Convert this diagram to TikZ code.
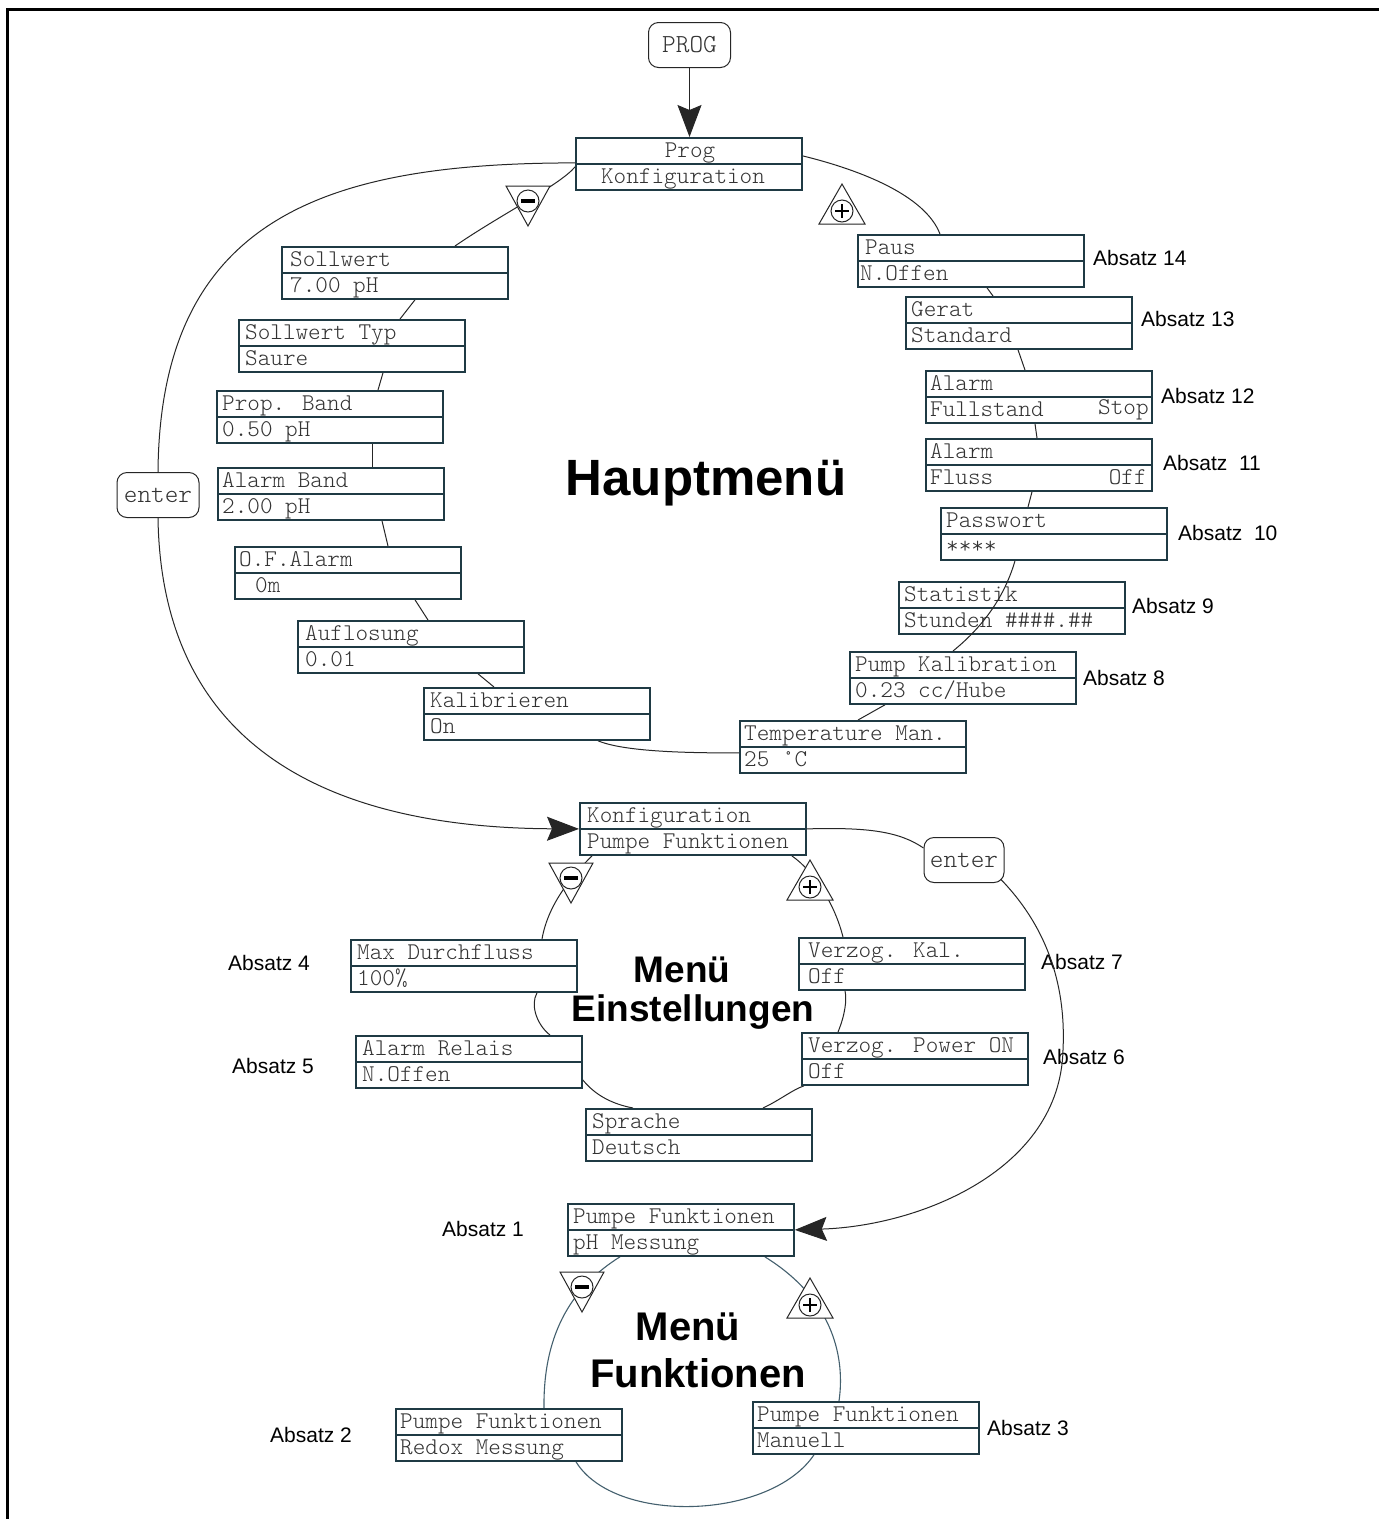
\documentclass[tikz,border=0pt]{standalone}
\usepackage{fontspec}
\setmainfont{Liberation Sans}
\newfontfamily\monol{lmmonolt10-regular}[Extension=.otf]
\usetikzlibrary{arrows.meta,calc}
\definecolor{boxc}{HTML}{1F3A44}
\definecolor{ringc}{HTML}{44606E}
\definecolor{txtc}{HTML}{333333}
\pgfdeclarelayer{bg}
\pgfsetlayers{bg,main}
\tikzset{
 menubox/.style={draw=boxc, line width=1.8pt, fill=white, minimum width=226pt, minimum height=52pt, inner sep=0pt, anchor=north west},
 mtxt/.style={font=\monol\fontsize{24}{26}\selectfont, text=txtc, inner sep=0pt, anchor=base west},
 ringline/.style={draw=black!85, line width=1pt},
 ringlineb/.style={draw=ringc, line width=1.1pt},
 abs/.style={font=\fontsize{21}{24}\selectfont, anchor=west, inner sep=0pt},
 keyb/.style={draw=black!85, line width=1pt, rounded corners=10pt, minimum width=82pt, minimum height=45pt, font=\monol\fontsize{26}{28}\selectfont, text=txtc, inner sep=0pt},
 bigarrow/.style={-{Stealth[length=32pt,width=24pt,inset=5pt]}, line width=1pt, draw=black!85},
 tri/.style={draw=black!85, fill=white, line width=1pt},
}
\newcommand\hashes{\char`\#\char`\#\char`\#\char`\#.\char`\#\char`\#}
\newcommand\mbx[6]{% name, x, y, dx, text1, text2
 \node[menubox] (#1) at (#2,#3) {};
 \draw[boxc, line width=1.5pt] (#1.west) -- (#1.east);
 \node[mtxt] (#1-a) at ([shift={(#4,20)}]#1.north west) {#5};
 \node[mtxt] (#1-b) at ([shift={(#4,46)}]#1.north west) {#6};
}
\newcommand\minustri[2]{%
 \coordinate (#1) at (#2);
 \draw[tri] ([shift={(-22,-15)}]#1) -- ([shift={(22,-15)}]#1) -- ([shift={(0,25)}]#1) -- cycle;
 \draw[tri] (#1) circle[radius=11pt];
 \draw[line width=4pt] ([shift={(-7,0)}]#1) -- ([shift={(7,0)}]#1);
}
\newcommand\plustri[2]{%
 \coordinate (#1) at (#2);
 \draw[tri] ([shift={(-23,13)}]#1) -- ([shift={(23,13)}]#1) -- ([shift={(0,-27)}]#1) -- cycle;
 \draw[tri] (#1) circle[radius=11pt];
 \draw[line width=1.5pt] ([shift={(-7,0)}]#1) -- ([shift={(7,0)}]#1) ([shift={(0,-7)}]#1) -- ([shift={(0,7)}]#1);
}
\begin{document}
\begin{tikzpicture}[x=1pt,y=-1pt]
\useasboundingbox (0,0) rectangle (1379,1519);
\begin{pgfonlayer}{bg}
\fill[white] (0,0) rectangle (1379,1519);
\end{pgfonlayer}
\draw[line width=3pt] (7,1519) -- (7,9) -- (1379,9);

% ---------- keys ----------
\node[keyb] (progkey) at (689.5,45) {PROG};
\node[keyb] (enter1) at (158,495) {enter};
\node[keyb, minimum width=80pt] (enter2) at (964,860) {enter};

% ---------- Hauptmenue ----------
\node[menubox] (prog) at (575,137) {};
\draw[boxc, line width=1.5pt] (prog.west) -- (prog.east);
\node[mtxt, anchor=base] (prog-a) at ([shift={(115,20)}]prog.north west) {Prog};
\node[mtxt, anchor=base] (prog-b) at ([shift={(108,46)}]prog.north west) {Konfiguration};

\mbx{sw}{281}{246}{9}{Sollwert}{7.00 pH}
\mbx{swt}{238}{319}{7}{Sollwert Typ}{Saure}
\mbx{pb}{216}{390}{6}{Prop. Band}{0.50 pH}
\mbx{ab}{217}{467}{5}{Alarm Band}{2.00 pH}
\node[menubox] (of) at (234,546) {};
\draw[boxc, line width=1.5pt] (of.west) -- (of.east);
\node[mtxt] (of-a) at ([shift={(5,20)}]of.north west) {O.F.Alarm};
\node[mtxt] (of-b) at ([shift={(21,46)}]of.north west) {0m};
\mbx{auf}{297}{620}{8}{Auflosung}{0.01}
\mbx{kal}{423}{687}{7}{Kalibrieren}{On}
\mbx{temp}{739}{720}{5}{Temperature Man.}{25 °C}
\mbx{pk}{849}{651}{6}{Pump Kalibration}{0.23 cc/Hube}
\mbx{stat}{898}{581}{6}{Statistik}{Stunden \hashes}
\mbx{pw}{940}{507}{6}{Passwort}{****}
\mbx{afl}{925}{438}{5}{Alarm}{Fluss}
\node[mtxt, anchor=base east] (afl-c) at ([shift={(-6,46)}]afl.north east) {Off};
\mbx{afs}{925}{370}{5}{Alarm}{Fullstand}
\node[mtxt, anchor=base east] (afs-c) at ([shift={(-4,44)}]afs.north east) {Stop};
\mbx{ger}{905}{296}{6}{Gerat}{Standard}
\node[menubox] (paus) at (857,234) {};
\draw[boxc, line width=1.5pt] (paus.west) -- (paus.east);
\node[mtxt] (paus-a) at ([shift={(8,20)}]paus.north west) {Paus};
\node[mtxt] (paus-b) at ([shift={(3,46)}]paus.north west) {N.Offen};

\node[font=\bfseries\fontsize{51}{56}\selectfont] (haupt) at (706,483) {Hauptmenü};

\node[abs] (a14) at (1093,258) {Absatz 14};
\node[abs] (a13) at (1141,319) {Absatz 13};
\node[abs] (a12) at (1161,396) {Absatz 12};
\node[abs] (a11) at (1163,463) {Absatz \ 11};
\node[abs] (a10) at (1178,533) {Absatz \ 10};
\node[abs] (a9) at (1132,606) {Absatz 9};
\node[abs] (a8) at (1083,678) {Absatz 8};

% ---------- Menue Einstellungen ----------
\mbx{konf}{579}{802}{8}{Konfiguration}{Pumpe Funktionen}
\mbx{max}{350}{939}{7}{Max Durchfluss}{100\%}
\mbx{ar}{355}{1035}{7}{Alarm Relais}{N.Offen}
\mbx{spr}{585}{1108}{7}{Sprache}{Deutsch}
\mbx{vp}{801}{1032}{7}{Verzog. Power ON}{Off}
\mbx{vk}{798}{937}{10}{Verzog. Kal.}{Off}

\node[font=\bfseries\fontsize{37}{40}\selectfont] (menu1) at (682,970) {Menü};
\node[font=\bfseries\fontsize{37}{40}\selectfont] (einst) at (693,1012) {Einstellungen};

\node[abs] (a4) at (228,963) {Absatz 4};
\node[abs] (a5) at (232,1066) {Absatz 5};
\node[abs] (a7) at (1041,962) {Absatz 7};
\node[abs] (a6) at (1043,1057) {Absatz 6};

% ---------- Menue Funktionen ----------
\mbx{pf1}{567}{1203}{6}{Pumpe Funktionen}{pH Messung}
\mbx{pf2}{395}{1408}{5}{Pumpe Funktionen}{Redox Messung}
\mbx{pf3}{752}{1401}{5}{Pumpe Funktionen}{Manuell}

\node[font=\bfseries\fontsize{40}{44}\selectfont] (menu2) at (688,1327) {Menü};
\node[font=\bfseries\fontsize{40}{44}\selectfont] (funk) at (698,1373) {Funktionen};

\node[abs] (a1) at (442,1229) {Absatz 1};
\node[abs] (a2) at (270,1435) {Absatz 2};
\node[abs] (a3) at (987,1428) {Absatz 3};

% ---------- connectors (background) ----------
\begin{pgfonlayer}{bg}
% main ring
\draw[ringline] ([yshift=-3pt]prog.west) .. controls (560,185) and (500,215) .. ([xshift=174pt]sw.north west);
\draw[ringline] ([xshift=134pt]sw.south west) -- ([xshift=162pt]swt.north west);
\draw[ringline] ([xshift=145pt]swt.south west) -- ([xshift=162pt]pb.north west);
\draw[ringline] ([xshift=156pt]pb.south west) -- ([xshift=155pt]ab.north west);
\draw[ringline] ([xshift=165pt]ab.south west) -- ([xshift=154pt]of.north west);
\draw[ringline] ([xshift=181pt]of.south west) -- ([xshift=131pt]auf.north west);
\draw[ringline] ([xshift=181pt]auf.south west) -- ([xshift=71pt]kal.north west);
\draw[ringline] ([xshift=175pt]kal.south west) .. controls (625,752) and (690,753) .. ([yshift=-6pt]temp.west);
\draw[ringline] ([xshift=119pt]temp.north west) -- ([xshift=36pt]pk.south west);
\draw[ringline] ([xshift=88pt]pw.north west) -- ([xshift=107pt]afl.south west);
\draw[ringline] ([xshift=112pt]afl.north west) -- ([xshift=110pt]afs.south west);
\draw[ringline] ([xshift=100pt]afs.north west) -- ([xshift=113pt]ger.south west);
\draw[ringline] ([xshift=88pt]ger.north west) -- ([xshift=130pt]paus.south west);
\draw[ringline] ([xshift=83pt]paus.north west) .. controls (925,195) and (860,170) .. ([yshift=8pt]prog.east);
% enter loop left
\draw[ringline] ([yshift=1pt]prog.west) .. controls (330,163) and (160,215) .. (enter1.north);
% middle ring
\draw[ringline] ([xshift=13pt]konf.south west) .. controls (570,878) and (548,905) .. ([xshift=192pt]max.north west);
\draw[ringline] ([xshift=187pt]max.south west) .. controls (530,1005) and (537,1025) .. ([xshift=195pt]ar.north west);
\draw[ringline] ([yshift=-18pt]ar.east) .. controls (595,1095) and (612,1104) .. ([xshift=48pt]spr.north west);
\draw[ringline] ([xshift=178pt]spr.north west) .. controls (780,1100) and (792,1090) .. ([xshift=3pt]vp.south west);
\draw[ringline] ([xshift=37pt]vp.north west) .. controls (845,1015) and (847,1000) .. ([xshift=47pt]vk.south west);
\draw[ringline] ([xshift=45pt]vk.north west) .. controls (835,905) and (815,872) .. ([xshift=-15pt]konf.south east);
% enter loop right (first part)
\draw[ringline] (konf.east) .. controls (870,827) and (900,832) .. ([yshift=12pt]enter2.west);
% bottom ring
\draw[ringlineb] ([xshift=53pt]pf1.south west) .. controls (575,1285) and (543,1330) .. ([xshift=149pt]pf2.north west);
\draw[ringlineb] ([xshift=181pt]pf2.south west) .. controls (615,1525) and (770,1520) .. ([xshift=62pt]pf3.south west);
\draw[ringlineb] ([xshift=87pt]pf3.north west) .. controls (845,1360) and (835,1300) .. ([xshift=-30pt]pf1.south east);
\end{pgfonlayer}

% line crossing the Statistik box
\draw[ringline] ([xshift=104pt]pk.north west) .. controls (985,625) and (1005,595) .. ([xshift=75pt]pw.south west);

% arrows
\draw[bigarrow] (progkey.south) -- (progkey.south |- prog.north);
\draw[bigarrow] (enter1.south) .. controls (162,780) and (380,828) .. (konf.west);
\draw[bigarrow] ([shift={(-4pt,4pt)}]enter2.south east) .. controls (1050,930) and (1066,990) .. (1063,1050) .. controls (1060,1170) and (920,1226) .. (pf1.east);

% triangles
\minustri{t1}{528,201}
\plustri{t2}{842,211}
\minustri{t3}{571,878}
\plustri{t4}{810,887}
\minustri{t5}{582,1287}
\plustri{t6}{810,1305}
\end{tikzpicture}
\end{document}
